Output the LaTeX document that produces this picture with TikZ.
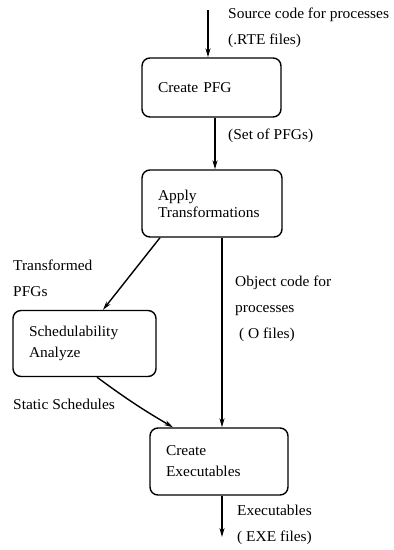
\documentclass[tikz,border=0pt]{standalone}
\usepackage{fontspec}
\setmainfont{Liberation Serif}[FakeStretch=1.03]
\usetikzlibrary{arrows.meta,positioning,calc}
\tikzset{
  procbox/.style={draw,line width=1.4pt,rounded corners=8pt,align=left,inner xsep=16pt,
    font=\fontsize{15}{21}\selectfont},
  flowlbl/.style={anchor=west,align=left,inner sep=0pt,font=\fontsize{15}{26}\selectfont},
  flow/.style={line width=1.4pt,-{Stealth[length=9pt,width=5pt]}}
}
\begin{document}
\begin{tikzpicture}[x=1pt,y=-1pt]
  \useasboundingbox (0,0) rectangle (394,550);
  % boxes
  \node[procbox,text width=107pt,minimum height=59pt] (pfg) at (211.5,87.5) {Create PFG};
  \node[procbox,text width=108pt,minimum height=67pt] (trans) at (212,203.5) {Apply\\[-4pt]Transformations};
  \node[procbox,text width=111pt,minimum height=66pt] (sched) at (84.5,343.5) {Schedulability\\Analyze};
  \node[procbox,text width=106pt,minimum height=67pt] (exe) at (219,461.5) {Create\\Executables};
  % free ends
  \coordinate (src) at (208,10);
  \coordinate (out) at (222,537);
  % connectors
  \draw[flow] (src) -- (src |- pfg.north);
  \draw[flow] (pfg.south -| 215,0) -- (trans.north -| 215,0);
  \draw[flow] (trans.south -| 160,0) -- (sched.north -| 103,0);
  \draw[flow] (trans.south -| 222,0) -- (exe.north -| 222,0);
  \draw[flow] (sched.south -| 97,0) to[bend right=3] (exe.north -| 173,0);
  \draw[flow] (exe.south -| 222,0) -- (out);
  % labels
  \node[flowlbl] (srclbl) at (228,28) {Source code for processes\\(.RTE files)};
  \node[flowlbl] (setlbl) at (228,136) {(Set of PFGs)};
  \node[flowlbl] (translbl) at (13,278) {Transformed\\PFGs};
  \node[flowlbl] (objlbl) at (235,309) {Object code for\\processes\\\ ( O files)};
  \node[flowlbl] (statlbl) at (13,404) {Static Schedules};
  \node[flowlbl] (exelbl) at (237,525) {Executables\\( EXE files)};
\end{tikzpicture}
\end{document}
